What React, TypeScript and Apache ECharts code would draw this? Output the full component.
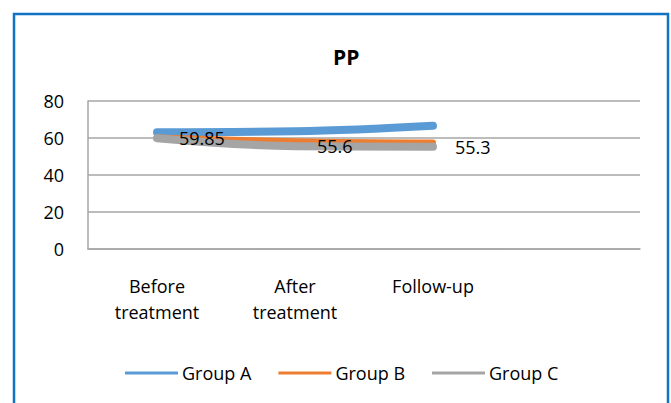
import React, { useEffect, useRef } from "react";
import * as echarts from "echarts";

const categories = ["Before\ntreatment", "After\ntreatment", "Follow-up", ""];
const groupA = [63.1, 63.6, 66.6];
const groupB = [60.3, 58.3, 57.6];
const groupC = [59.85, 55.6, 55.3];
const yTicks = { min: 0, max: 80, interval: 20 };

const FONT = "'Open Sans', 'Noto Sans', sans-serif";
const COLORS = { a: "#5B9BD5", b: "#ED7D31", c: "#A5A5A5" };

export default function App() {
  const ref = useRef<HTMLDivElement>(null);
  useEffect(() => {
    const chart = echarts.init(ref.current!, null, { renderer: "svg" });
    const lineSeries = (name: string, data: number[], color: string, width: number, label?: boolean) => ({
      name,
      type: "line",
      data,
      smooth: 0.4,
      showSymbol: !!label,
      symbol: "circle",
      symbolSize: 0,
      lineStyle: { color, width, cap: "round", join: "round" },
      itemStyle: { color },
      label: label
        ? {
            show: true,
            position: "right",
            distance: 22,
            color: "#000",
            fontSize: 18,
            fontFamily: FONT,
          }
        : { show: false },
      emphasis: { disabled: true },
    });
    chart.setOption({
      animation: false,
      backgroundColor: "#fff",
      title: {
        text: "PP",
        left: 328,
        top: 41,
        textStyle: { fontSize: 21, fontWeight: "bold", color: "#000", fontFamily: FONT },
      },
      graphic: [
        {
          type: "rect",
          shape: { x: 14, y: 14, width: 654, height: 420 },
          style: { fill: "none", stroke: "#1272C4", lineWidth: 2.5 },
          silent: true,
        },
      ],
      legend: {
        bottom: 16,
        left: 120,
        itemWidth: 53,
        itemHeight: 10,
        itemGap: 27,
        icon: "path://M0,0 L53,0 L53,3 L0,3 Z",
        textStyle: { fontSize: 18, color: "#000", fontFamily: FONT, padding: [0, 0, 0, -1] },
        data: [
          { name: "Group A", itemStyle: { color: COLORS.a } },
          { name: "Group B", itemStyle: { color: COLORS.b } },
          { name: "Group C", itemStyle: { color: COLORS.c } },
        ],
      },
      grid: { left: 88, right: 31, top: 101, bottom: 154, containLabel: false },
      xAxis: {
        type: "category",
        data: categories,
        boundaryGap: true,
        axisLine: { show: true, lineStyle: { color: "#A6A6A6", width: 1.5 } },
        axisTick: { show: false },
        axisLabel: {
          margin: 24,
          fontSize: 18,
          lineHeight: 26,
          color: "#000",
          fontFamily: FONT,
          interval: 0,
        },
      },
      yAxis: {
        type: "value",
        min: yTicks.min,
        max: yTicks.max,
        interval: yTicks.interval,
        axisLine: { show: true, lineStyle: { color: "#A6A6A6", width: 1.5 } },
        axisTick: { show: false },
        splitLine: { show: true, lineStyle: { color: "#A6A6A6", width: 1.5 } },
        axisLabel: { margin: 24, fontSize: 18, color: "#000", fontFamily: FONT },
      },
      series: [
        lineSeries("Group A", groupA, COLORS.a, 8),
        lineSeries("Group B", groupB, COLORS.b, 6),
        lineSeries("Group C", groupC, COLORS.c, 8, true),
      ],
    });
    return () => chart.dispose();
  }, []);
  return (
    <div
      ref={ref}
      style={{ position: "fixed", left: 0, top: 0, width: 671, height: 403 }}
    />
  );
}
